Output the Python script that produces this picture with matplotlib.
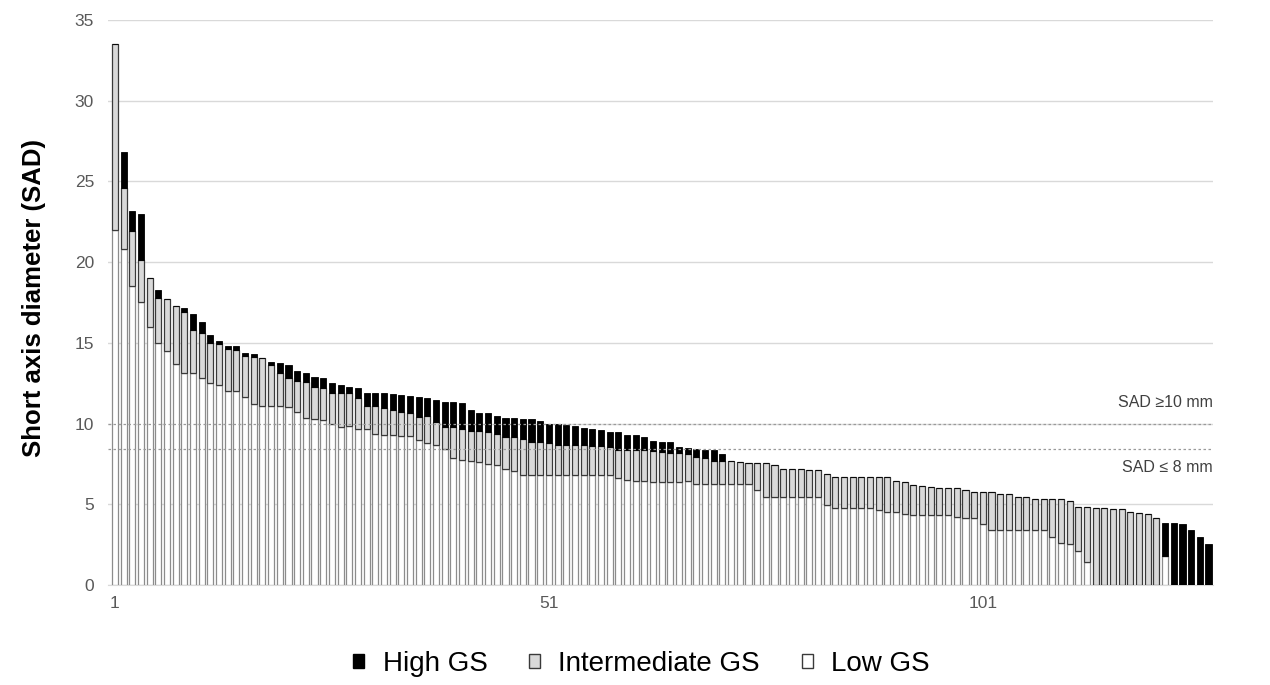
import matplotlib
matplotlib.use("Agg")
import matplotlib.pyplot as plt
from matplotlib.patches import Patch
import numpy as np

plt.rcParams['font.family'] = ['Liberation Sans', 'DejaVu Sans']

# Per-lesion SAD values (mm) for Low, Intermediate and High GS (cumulative tops)
low_gs = [22.0, 20.8, 18.5, 17.5, 16.0, 15.0, 14.5, 13.7, 13.1, 13.1,
          12.84, 12.5, 12.4, 12.0, 12.0, 11.66, 11.2, 11.1, 11.1, 11.1,
          11.04, 10.7, 10.37, 10.27, 10.19, 10.0, 9.8, 9.86, 9.65, 9.65,
          9.34, 9.3, 9.26, 9.24, 9.2, 8.95, 8.79, 8.68, 8.42, 7.86,
          7.76, 7.65, 7.59, 7.5, 7.42, 7.2, 7.08, 6.83, 6.79, 6.79,
          6.79, 6.79, 6.79, 6.79, 6.79, 6.79, 6.79, 6.79, 6.62, 6.52,
          6.47, 6.41, 6.37, 6.37, 6.37, 6.4, 6.41, 6.25, 6.25, 6.25,
          6.25, 6.25, 6.25, 6.25, 5.9, 5.47, 5.47, 5.47, 5.47, 5.47,
          5.47, 5.47, 4.98, 4.77, 4.77, 4.77, 4.77, 4.77, 4.65, 4.55,
          4.55, 4.38, 4.34, 4.34, 4.34, 4.34, 4.34, 4.19, 4.13, 4.13,
          3.76, 3.41, 3.41, 3.41, 3.41, 3.41, 3.41, 3.41, 3.0, 2.62,
          2.54, 2.13, 1.45, 0, 0, 0, 0, 0, 0, 0,
          0, 1.8, 0, 0, 0, 0, 0]
intermediate_gs = [33.5, 24.6, 21.9, 20.1, 19.0, 17.76, 17.7, 17.25, 16.9, 15.8,
                   15.6, 15.0, 14.9, 14.6, 14.55, 14.2, 14.1, 14.03, 13.6, 13.15,
                   12.84, 12.63, 12.6, 12.28, 12.2, 11.9, 11.87, 11.87, 11.56, 11.09,
                   11.09, 10.95, 10.84, 10.7, 10.64, 10.43, 10.47, 10.08, 9.81, 9.77,
                   9.65, 9.55, 9.55, 9.5, 9.36, 9.19, 9.15, 9.04, 8.83, 8.83,
                   8.79, 8.68, 8.68, 8.68, 8.68, 8.62, 8.62, 8.56, 8.37, 8.37,
                   8.37, 8.37, 8.3, 8.26, 8.2, 8.2, 8.14, 7.95, 7.89, 7.68,
                   7.68, 7.68, 7.62, 7.58, 7.54, 7.54, 7.44, 7.21, 7.17, 7.17,
                   7.11, 7.11, 6.86, 6.7, 6.7, 6.7, 6.66, 6.66, 6.67, 6.67,
                   6.45, 6.36, 6.2, 6.14, 6.05, 5.99, 5.99, 5.99, 5.89, 5.79,
                   5.74, 5.74, 5.64, 5.62, 5.43, 5.43, 5.33, 5.33, 5.33, 5.33,
                   5.23, 4.86, 4.86, 4.75, 4.75, 4.69, 4.69, 4.55, 4.44, 4.4,
                   4.13, 1.8, 0, 0, 0, 0, 0]
high_gs = [33.5, 26.8, 23.15, 23.0, 19.0, 18.25, 17.7, 17.25, 17.14, 16.8,
           16.27, 15.48, 15.1, 14.83, 14.83, 14.37, 14.28, 14.03, 13.84, 13.73,
           13.6, 13.25, 13.15, 12.9, 12.8, 12.49, 12.39, 12.28, 12.18, 11.87,
           11.87, 11.87, 11.8, 11.77, 11.7, 11.67, 11.56, 11.46, 11.36, 11.36,
           11.3, 10.84, 10.68, 10.63, 10.45, 10.37, 10.37, 10.3, 10.3, 10.16,
           9.95, 9.95, 9.88, 9.84, 9.74, 9.63, 9.57, 9.46, 9.46, 9.32,
           9.32, 9.15, 8.9, 8.83, 8.83, 8.57, 8.5, 8.4, 8.36, 8.34,
           8.1, 7.68, 7.62, 7.58, 7.54, 7.54, 7.44, 7.21, 7.17, 7.17,
           7.11, 7.11, 6.86, 6.7, 6.7, 6.7, 6.66, 6.66, 6.67, 6.67,
           6.45, 6.36, 6.2, 6.14, 6.05, 5.99, 5.99, 5.99, 5.89, 5.79,
           5.74, 5.74, 5.64, 5.62, 5.43, 5.43, 5.33, 5.33, 5.33, 5.33,
           5.23, 4.86, 4.86, 4.75, 4.75, 4.69, 4.69, 4.55, 4.44, 4.4,
           4.13, 3.86, 3.86, 3.78, 3.41, 3.0, 2.54]

tick_labels = ["1", "51", "101"]
tick_positions = [1, 51, 101]
thresholds = [10.0, 8.4]
threshold_labels = ["SAD \u226510 mm", "SAD \u2264 8 mm"]

low = np.array(low_gs)
mid = np.array(intermediate_gs)
high = np.array(high_gs)
x = np.arange(1, len(low) + 1)

fig = plt.figure(figsize=(12.7, 6.85), dpi=100)
ax = fig.add_axes([0.085, 0.146, 0.870, 0.825])

w = 0.7
ax.bar(x, low, width=w, color='white', edgecolor='#8c8c8c', linewidth=0.9, zorder=3)
ax.bar(x, mid - low, bottom=low, width=w, color='#d9d9d9', edgecolor='#3a3a3a',
       linewidth=0.9, zorder=3)
ax.bar(x, high - mid, bottom=mid, width=w, color='black', edgecolor='black',
       linewidth=0.6, zorder=3)

ax.set_ylim(0, 35)
ax.set_xlim(0.2, 127.5)
ax.set_yticks(np.arange(0, 36, 5))
ax.yaxis.grid(True, color='#d9d9d9', linewidth=1.0, zorder=0)
ax.set_axisbelow(True)
ax.set_xticks(tick_positions)
ax.set_xticklabels(tick_labels)
ax.tick_params(axis='both', length=0, labelsize=12.5, labelcolor='#595959')
ax.tick_params(axis='x', pad=8)
ax.tick_params(axis='y', pad=10)
for s in ['top', 'right', 'left']:
    ax.spines[s].set_visible(False)
ax.spines['bottom'].set_color('#d9d9d9')

for t in thresholds:
    ax.axhline(t, color='#9a9a9a', linewidth=0.9, linestyle=(0, (2, 2)), zorder=4)

ax.text(127.5, 11.3, threshold_labels[0], ha='right', va='center', fontsize=11.5,
        color='#404040')
ax.text(127.5, 7.3, threshold_labels[1], ha='right', va='center', fontsize=11.5,
        color='#404040')

ax.set_ylabel("Short axis diameter (SAD)", fontsize=18.5, fontweight='bold',
              color='black')
ax.yaxis.set_label_coords(-0.056, 0.508)

handles = [Patch(facecolor='black', edgecolor='black', label='High GS'),
           Patch(facecolor='#d9d9d9', edgecolor='#3a3a3a', label='Intermediate GS'),
           Patch(facecolor='white', edgecolor='#3a3a3a', label='Low GS')]
fig.legend(handles=handles, loc='center', bbox_to_anchor=(0.505, 0.031), ncol=3,
           frameon=False, fontsize=20, handlelength=0.4, handleheight=0.4,
           handletextpad=0.65, columnspacing=1.5)

fig.savefig("out.png", dpi=100)
